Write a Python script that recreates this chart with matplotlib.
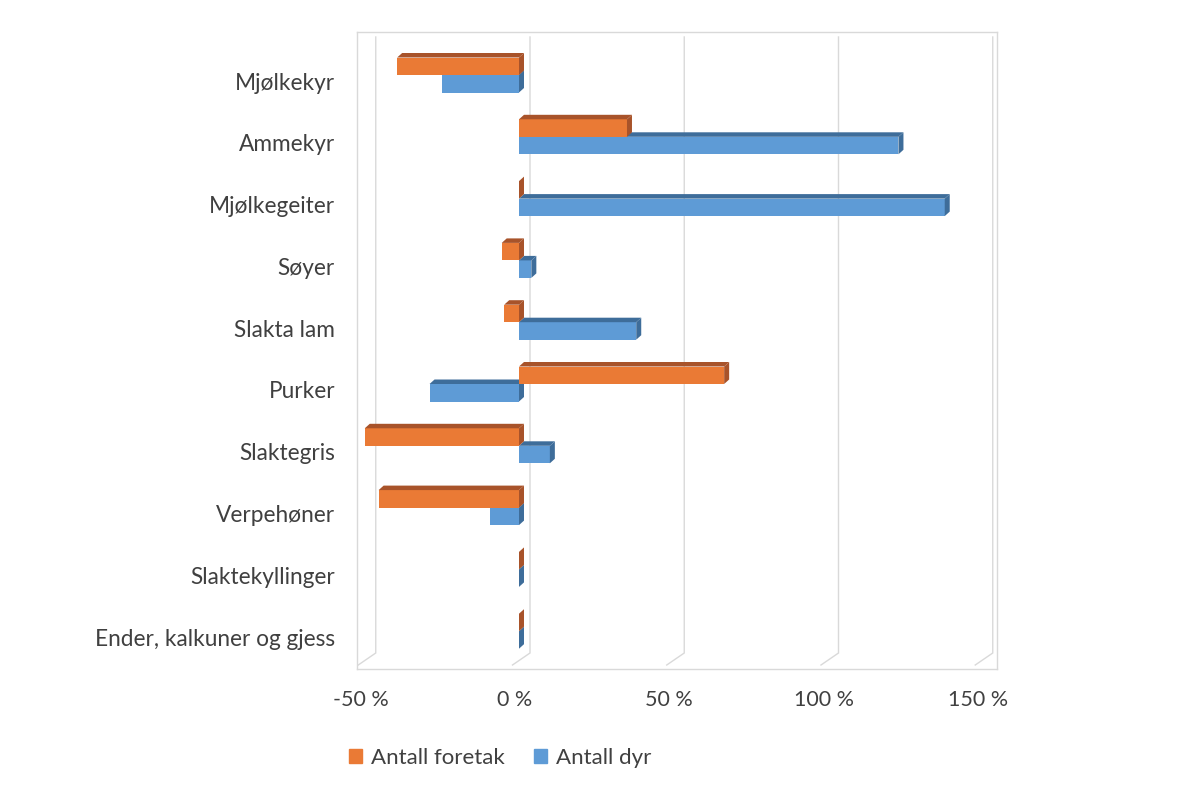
import matplotlib.pyplot as plt
from matplotlib.patches import Polygon, Patch

plt.rcParams['font.family'] = ['Lato', 'DejaVu Sans']

# data (prosent endring)
kategorier = ['Mjølkekyr', 'Ammekyr', 'Mjølkegeiter', 'Søyer', 'Slakta lam',
              'Purker', 'Slaktegris', 'Verpehøner', 'Slaktekyllinger',
              'Ender, kalkuner og gjess']
foretak = [-39.5, 35, 0, -5.6, -4.8, 66.5, -50, -45.5, 0, 0]
dyr = [-25, 123, 138, 4, 38, -29, 10, -9.5, 0, 0]
xticks = [-50, 0, 50, 100, 150]
xticklabels = ['-50 %', '0 %', '50 %', '100 %', '150 %']

orange, orange_dark = '#EA7A35', '#A8532A'
blue, blue_dark = '#5E9BD6', '#3E6D9A'
grid_c = '#D9D9D9'
txt_c = '#404040'

fig = plt.figure(figsize=(12, 8), dpi=100)
ax = fig.add_axes([357/1200, 1-669/800, 640/1200, 637/800])

pxx = 3.085   # px per prosent
pxy = 61.8    # px per kategori
ax.set_xlim((357-519)/pxx, (997-519)/pxx)
ax.set_ylim((669-75)/pxy, (32-75)/pxy)

h = 17.5/pxy
dx = 5/pxx
dy = -4.5/pxy

# rutenett med 3D-knekk nederst
for v in xticks:
    xb = v + 11/pxx
    xf = v - 6.5/pxx
    ax.plot([xb, xb, xf], [(37-75)/pxy, (653-75)/pxy, (665-75)/pxy],
            color=grid_c, lw=1, zorder=1, solid_joinstyle='miter')


def tegn(verdier, offset, front, dark, z):
    ys = [i + offset for i in range(len(verdier))]
    ax.barh(ys, verdier, height=h, color=front, zorder=z)
    for y, v in zip(ys, verdier):
        x0, x1 = min(0, v), max(0, v)
        yt, yb = y - h/2, y + h/2
        top = Polygon([(x0, yt), (x1, yt), (x1+dx, yt+dy), (x0+dx, yt+dy)],
                      closed=True, color=dark, lw=0, zorder=z)
        side = Polygon([(x1, yt), (x1, yb), (x1+dx, yb+dy), (x1+dx, yt+dy)],
                       closed=True, color=dark, lw=0, zorder=z)
        ax.add_patch(top)
        ax.add_patch(side)


tegn(dyr, h/2, blue, blue_dark, 3)
tegn(foretak, -h/2, orange, orange_dark, 4)

ax.set_xticks([])
ax.set_yticks([])
for s in ax.spines.values():
    s.set_color(grid_c)
    s.set_linewidth(1)

for i, k in enumerate(kategorier):
    ax.text(-52.5 - 22/pxx, i + 8/pxy, k, ha='right', va='center',
            fontsize=16.3, color=txt_c)

for v, l in zip(xticks, xticklabels):
    ax.text(v - 4/pxx, (700-75)/pxy, l, ha='center', va='center',
            fontsize=15.5, color=txt_c, clip_on=False)

handles = [Patch(color=orange, label='Antall foretak'),
           Patch(color=blue, label='Antall dyr')]
fig.legend(handles=handles, loc='center', bbox_to_anchor=(500/1200, 1-758/800),
           ncol=2, frameon=False, fontsize=16, handlelength=0.6, handleheight=0.6,
           handletextpad=0.4, columnspacing=1.3, labelcolor=txt_c)

fig.savefig('out.png', dpi=100)
